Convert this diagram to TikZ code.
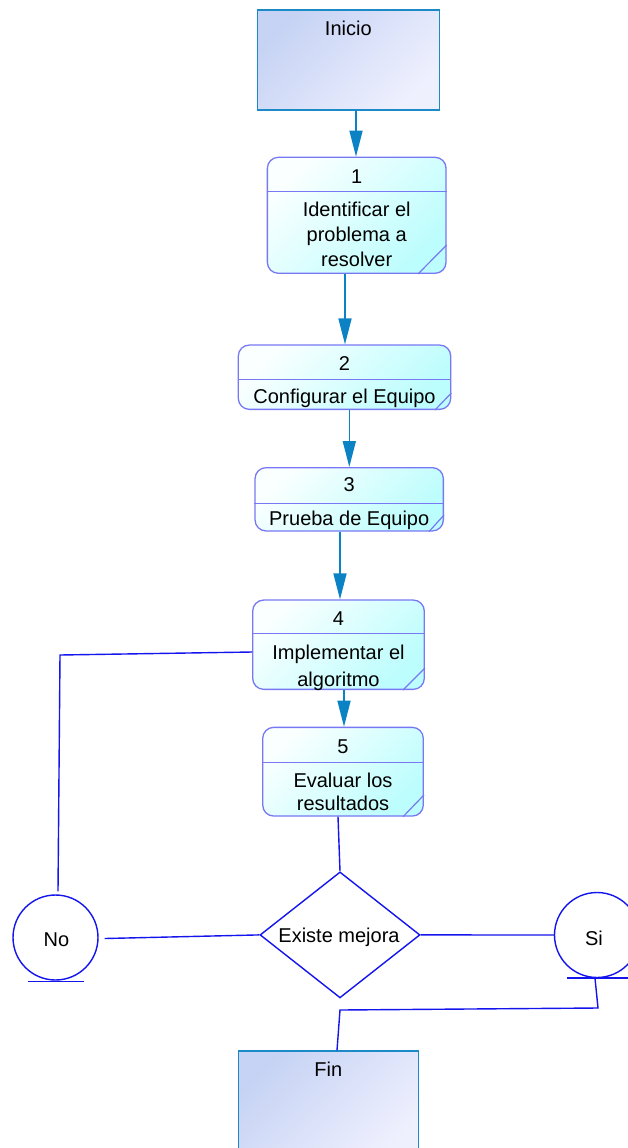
\documentclass[tikz,border=0pt]{standalone}
\usepackage{fontspec}
\setmainfont{Liberation Sans}
\usetikzlibrary{arrows.meta,shapes.geometric}
\definecolor{pborder}{HTML}{7878F4}
\definecolor{pfillA}{HTML}{FAFFFF}
\definecolor{pfillB}{HTML}{BCFDFD}
\definecolor{tborder}{HTML}{1C8AC6}
\definecolor{tfillA}{HTML}{C6D3F4}
\definecolor{tfillB}{HTML}{EFF0FE}
\definecolor{arrcol}{HTML}{0A82C4}
\definecolor{bcol}{HTML}{1414EE}
\tikzset{
 txt/.style={font=\fontsize{20}{24}\selectfont, inner sep=0pt, anchor=base, text=black},
 pbox/.style={draw=pborder, line width=1.3pt, rounded corners=11pt, top color=pfillA, bottom color=pfillB, shading angle=45, inner sep=0pt},
 tbox/.style={draw=tborder, line width=1.5pt, top color=tfillA, bottom color=tfillB, shading angle=45, inner sep=0pt},
 arr/.style={draw=arrcol, line width=1.6pt, -{Triangle[width=13pt,length=26pt]}},
 bline/.style={draw=bcol, line width=1.4pt},
 pline/.style={draw=pborder, line width=1.2pt},
 dec/.style={diamond, draw=bcol, line width=1.4pt, fill=white, inner sep=0pt, minimum width=160pt, minimum height=126pt},
 conn/.style={circle, draw=bcol, line width=1.4pt, fill=white, inner sep=0pt, minimum size=85pt},
}
\begin{document}
\begin{tikzpicture}[x=1pt,y=1pt]
\clip (0,0) rectangle (628,-1148);
\fill[white] (0,0) rectangle (628,-1148);
% terminals
\node[tbox, minimum width=182pt, minimum height=100pt] (ini) at (348.3,-60) {};
\node[txt] (tini) at (ini.center |- 0,-36) {Inicio};
\node[tbox, minimum width=180pt, minimum height=110pt] (fin) at (328.3,-1106) {};
\node[txt] (tfin) at (fin.center |- 0,-1076.7) {Fin};
% process boxes
\node[pbox, minimum width=178.7pt, minimum height=116pt] (b1) at (356.7,-215.3) {};
\node[pbox, minimum width=212.4pt, minimum height=64.3pt] (b2) at (344.5,-377.2) {};
\node[pbox, minimum width=188.3pt, minimum height=63.3pt] (b3) at (349.2,-499.3) {};
\node[pbox, minimum width=171.6pt, minimum height=89.3pt] (b4) at (338.5,-644.7) {};
\node[pbox, minimum width=160.6pt, minimum height=88.7pt] (b5) at (343,-771.7) {};
% dividers and folds
\draw[pline] (b1.west |- 0,-191.7) -- (b1.east |- 0,-191.7);
\draw[pline] (b1.east |- 0,-245) -- (b1.south -| 418,0);
\draw[pline] (b2.west |- 0,-379.3) -- (b2.east |- 0,-379.3);
\draw[pline] (b2.east |- 0,-393) -- (b2.south -| 435,0);
\draw[pline] (b3.west |- 0,-503.3) -- (b3.east |- 0,-503.3);
\draw[pline] (b3.east |- 0,-515) -- (b3.south -| 429,0);
\draw[pline] (b4.west |- 0,-633.3) -- (b4.east |- 0,-633.3);
\draw[pline] (b4.east |- 0,-668) -- (b4.south -| 403,0);
\draw[pline] (b5.west |- 0,-762.7) -- (b5.east |- 0,-762.7);
\draw[pline] (b5.east |- 0,-795) -- (b5.south -| 403,0);
% texts
\node[txt] (n1) at (b1.center |- 0,-183) {1};
\node[txt] (l1a) at (b1.center |- 0,-216.5) {Identificar el};
\node[txt] (l1b) at (b1.center |- 0,-241.5) {problema a};
\node[txt] (l1c) at (b1.center |- 0,-266.5) {resolver};
\node[txt] (n2) at (b2.center |- 0,-370.7) {2};
\node[txt] (l2a) at (b2.center |- 0,-403.3) {Configurar el Equipo};
\node[txt] (n3) at (b3.center |- 0,-491.7) {3};
\node[txt] (l3a) at (b3.center |- 0,-525) {Prueba de Equipo};
\node[txt] (n4) at (b4.center |- 0,-625) {4};
\node[txt] (l4a) at (b4.center |- 0,-659) {Implementar el};
\node[txt] (l4b) at (b4.center |- 0,-686) {algoritmo};
\node[txt] (n5) at (b5.center |- 0,-753) {5};
\node[txt] (l5a) at (b5.center |- 0,-787) {Evaluar los};
\node[txt] (l5b) at (b5.center |- 0,-810) {resultados};
% arrows
\draw[arr] (ini.south -| 356,0) -- (b1.north -| 356,0);
\draw[arr] (b1.south -| 345,0) -- (b2.north -| 345,0);
\draw[arr] (b2.south -| 349.3,0) -- (b3.north -| 349.3,0);
\draw[arr] (b3.south -| 340,0) -- (b4.north -| 340,0);
\draw[arr] (b4.south -| 344,0) -- (b5.north -| 344,0);
% decision and connectors
\node[dec] (d) at (340,-934.9) {};
\node[txt] (td) at (339,-942.7) {Existe mejora};
\node[conn] (no) at (55.5,-937.5) {};
\node[txt] (tno) at (56.4,-946) {No};
\node[conn] (si) at (597,-935) {};
\node[txt] (tsi) at (594,-945) {Si};
\draw[bline] (28,-981.7) coordinate (nu1) -- (84,-981.7) coordinate (nu2);
\draw[bline] (567,-978) coordinate (su1) -- (640,-978) coordinate (su2);
\coordinate (nocorner) at (60,-655);
\coordinate (sicorner) at (598,-1008);
\coordinate (fincorner) at (340,-1010);
\draw[bline] (b5.south -| 338,0) -- (d.north);
\draw[bline] ([xshift=6pt,yshift=-1pt]no.east) -- (d.west);
\draw[bline] (d.east) -- (si.west);
\draw[bline] ([xshift=2.5pt,yshift=3pt]no.north) -- (nocorner) -- (b4.west |- 0,-652);
\draw[bline] ([xshift=-2pt]si.south) -- (sicorner) -- (fincorner) -- (fin.north -| 337,0);
\end{tikzpicture}
\end{document}
